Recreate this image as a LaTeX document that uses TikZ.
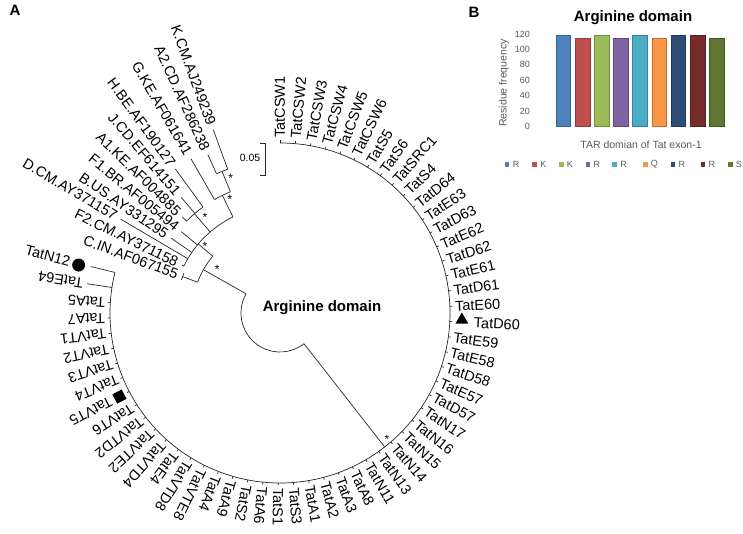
\documentclass[tikz,border=0pt]{standalone}
\usepackage{fontspec}
\setmainfont{Liberation Sans}
\usepackage{tikz}
\usetikzlibrary{shapes.geometric}
\tikzset{>=latex}
\definecolor{cRa}{HTML}{4F81BD}
\definecolor{cKa}{HTML}{C0504D}
\definecolor{cKb}{HTML}{9BBB59}
\definecolor{cRb}{HTML}{8064A2}
\definecolor{cRc}{HTML}{4BACC6}
\definecolor{cQa}{HTML}{F79646}
\definecolor{cRd}{HTML}{2C4D75}
\definecolor{cRe}{HTML}{772C2A}
\definecolor{cSa}{HTML}{5F7530}
\tikzstyle{branch} = [draw=black!85, line width=0.7pt]
\tikzstyle{leaf} = [inner sep=0pt, font=\fontsize{14.5}{15}\selectfont]
\tikzstyle{boot} = [inner sep=0pt, font=\fontsize{12}{12}\selectfont]
\tikzstyle{axislab} = [inner sep=0pt, text=black!65, font=\fontsize{9}{9}\selectfont]
\tikzstyle{panel} = [inner sep=0pt, font=\fontsize{15}{15}\selectfont\bfseries]

\begin{document}
\begin{tikzpicture}[x=1pt, y=1pt]
\useasboundingbox (-280,-220) rectangle (463,313);

% root of the tree
\coordinate (r0) at (150.5:39);
\coordinate (rt) at (308:39);
\draw [branch] (r0) arc [start angle=150.5, end angle=308, radius=39];
\node [panel] (title) at (42,5) {Arginine domain};

% Tat sequences from the samples
\coordinate (tc) at (308:170);
\draw [branch] (rt) -- (tc);
\node [boot] (stc) at (107,-126) {*};
\coordinate (tb0) at (90:170);
\draw [branch] (tb0) arc [start angle=90, end angle=-193.8, radius=170];
\foreach \lab/\lr [count=\i from 0] in {TatCSW1/175, TatCSW2/175, TatCSW3/175,
    TatCSW4/175, TatCSW5/175, TatCSW6/175, TatS5/175, TatS6/175, TatSRC1/175,
    TatS4/175, TatD64/175, TatE63/175, TatD63/175, TatE62/175, TatD62/175,
    TatE61/175, TatD61/175, TatE60/175, TatD60/194, TatE59/175, TatE58/175,
    TatD58/175, TatE57/175, TatD57/175, TatN17/175, TatN16/175, TatN15/175,
    TatN14/175, TatN13/175, TatN11/175, TatA8/175, TatA3/175, TatA2/175,
    TatA1/175, TatS3/175, TatS1/175, TatA6/175, TatS2/175, TatA9/175,
    TatA4/175, TatVTE8/175, TatVTD8/175, TatE4/175, TatVTD4/175, TatVTE2/175,
    TatVTD2/175, TatVT6/175, TatVT5/190, TatVT4/175, TatVT3/175, TatVT2/175,
    TatVT1/175, TatA7/175, TatA5/175}
{
  \pgfmathsetmacro{\ang}{90-5.16*\i}
  \coordinate (tb\i) at (\ang:170);
  \coordinate (tt\i) at (\ang:172.5);
  \draw [branch] (tb\i) -- (tt\i);
  \node [leaf, rotate=\ang, anchor=west] (tl\i) at (\ang:\lr) {\lab};
}
\coordinate (tb54) at (-188.64:170);
\coordinate (tt54) at (-188.64:195);
\draw [branch] (tb54) -- (tt54);
\node [leaf, rotate=-188.64, anchor=west] (tl54) at (-188.64:199) {TatE64};
\coordinate (tb55) at (-193.8:170);
\coordinate (tt55) at (-193.8:195);
\draw [branch] (tb55) -- (tt55);
\node [leaf, rotate=-15, anchor=east] (tl55) at (-193.8:216) {TatN12};

% markers
\node [circle, fill=black, inner sep=0pt, minimum size=13pt] (mN12) at (-193.4:207) {};
\node [regular polygon, regular polygon sides=3, fill=black, inner sep=0pt,
  minimum size=15pt] (mD60) at (-2.2:182) {};
\node [rectangle, fill=black, inner sep=0pt, minimum size=10.5pt, rotate=27.5]
  (mVT5) at (207.5:181) {};

% reference subtypes
\coordinate (r1) at (150.5:88);
\draw [branch] (r0) -- (r1);
\node [boot] (sr1) at (-62.7,44) {*};
\coordinate (r1a) at (139.8:88);
\draw [branch] (r1a) arc [start angle=139.8, end angle=159.5, radius=88];
\coordinate (nx) at (139.8:107);
\draw [branch] (r1a) -- (nx);
\node [boot] (snx) at (-75,67) {*};
\coordinate (nxa) at (116.1:107);
\draw [branch] (nxa) arc [start angle=116.1, end angle=154, radius=107];
\coordinate (n3b) at (130.75:107);
\coordinate (n3) at (130.75:131);
\draw [branch] (n3b) -- (n3);
\node [boot] (sn3) at (-75,96) {*};
\coordinate (n3a) at (126:131);
\draw [branch] (n3a) arc [start angle=126, end angle=135.5, radius=131];
\coordinate (n2) at (116.1:131);
\draw [branch] (nxa) -- (n2);
\node [boot] (sn2) at (-50,114) {*};
\coordinate (n2a) at (112.25:131);
\draw [branch] (n2a) arc [start angle=112.25, end angle=120, radius=131];
\coordinate (n1) at (112.25:153);
\draw [branch] (n2a) -- (n1);
\node [boot] (sn1) at (-49.3,135) {*};
\coordinate (n1a) at (110:153);
\draw [branch] (n1a) arc [start angle=110, end angle=114.5, radius=153];

\foreach \lab/\ang/\rb/\rt [count=\i] in {K.CM.AJ249239/110/153/195,
    A2.CD.AF286238/114.5/153/174, G.KE.AF061641/120/131/178,
    H.BE.AF190127/126/131/178, J.CD.EF614151/130.5/131/152,
    A1.KE.AF004885/135.5/131/137, F1.BR.AF005494/140.5/107/128,
    B.US.AY331295/145.5/107/132, D.CM.AY371157/149.5/107/185,
    F2.CM.AY371158/154/107/109, C.IN.AF067155/159.5/88/104}
{
  \pgfmathsetmacro{\rl}{\rt+5}
  \coordinate (rb\i) at (\ang:\rb);
  \coordinate (rt\i) at (\ang:\rt);
  \draw [branch] (rb\i) -- (rt\i);
  \node [leaf, rotate=\ang-180, anchor=east] (rl\i) at (\ang:\rl) {\lab};
}
\coordinate (cbar) at (157.5:104);
\draw [branch] (cbar) arc [start angle=157.5, end angle=161.5, radius=104];

% scale bar
\coordinate (sb1) at (-15,170);
\coordinate (sb2) at (-15,138);
\draw [branch] ([xshift=-5pt]sb1) -- (sb1) -- (sb2) -- ([xshift=-5pt]sb2);
\node [inner sep=0pt, font=\fontsize{10.5}{11}\selectfont] (sbl) at (-30,155) {0.05};

\node [panel] (pA) at (-265,303) {A};
\node [panel] (pB) at (194,301) {B};

% bar chart
\node [panel] (ctitle) at (353,295) {Arginine domain};
\foreach \v in {0,20,...,120}
  \node [axislab, anchor=east] (yt\v) at (250,186.3+0.7725*\v) {\v};
\node [axislab, rotate=90, font=\fontsize{10.5}{11}\selectfont] (ylab) at (224,230) {Residue frequency};
\foreach \c/\v [count=\k from 0] in {cRa/118, cKa/115, cKb/118, cRb/115, cRc/118,
    cQa/114, cRd/118, cRe/118, cSa/114}
{
  \pgfmathsetmacro{\bx}{283.3+19.18*\k}
  \pgfmathsetmacro{\by}{186.3+0.7725*\v}
  \filldraw [fill=\c, draw=\c!75!black, line width=0.6pt] (\bx-7.4,186.3) rectangle (\bx+7.4,\by);
}
\node [axislab, font=\fontsize{10.5}{11}\selectfont] (xlab) at (361,168) {TAR domian of Tat exon-1};
\foreach \c/\l/\lx [count=\k] in {cRa/R/227.2, cKa/K/254.7, cKb/K/281.3, cRb/R/308,
    cRc/R/334.7, cQa/Q/365.3, cRd/R/393, cRe/R/423, cSa/S/450.3}
{
  \node [fill=\c, inner sep=0pt, minimum size=4.5pt] (lg\k) at (\lx,148.7) {};
  \node [axislab, anchor=west] (lt\k) at ([xshift=3pt]lg\k.east) {\l};
}
\end{tikzpicture}
\end{document}
